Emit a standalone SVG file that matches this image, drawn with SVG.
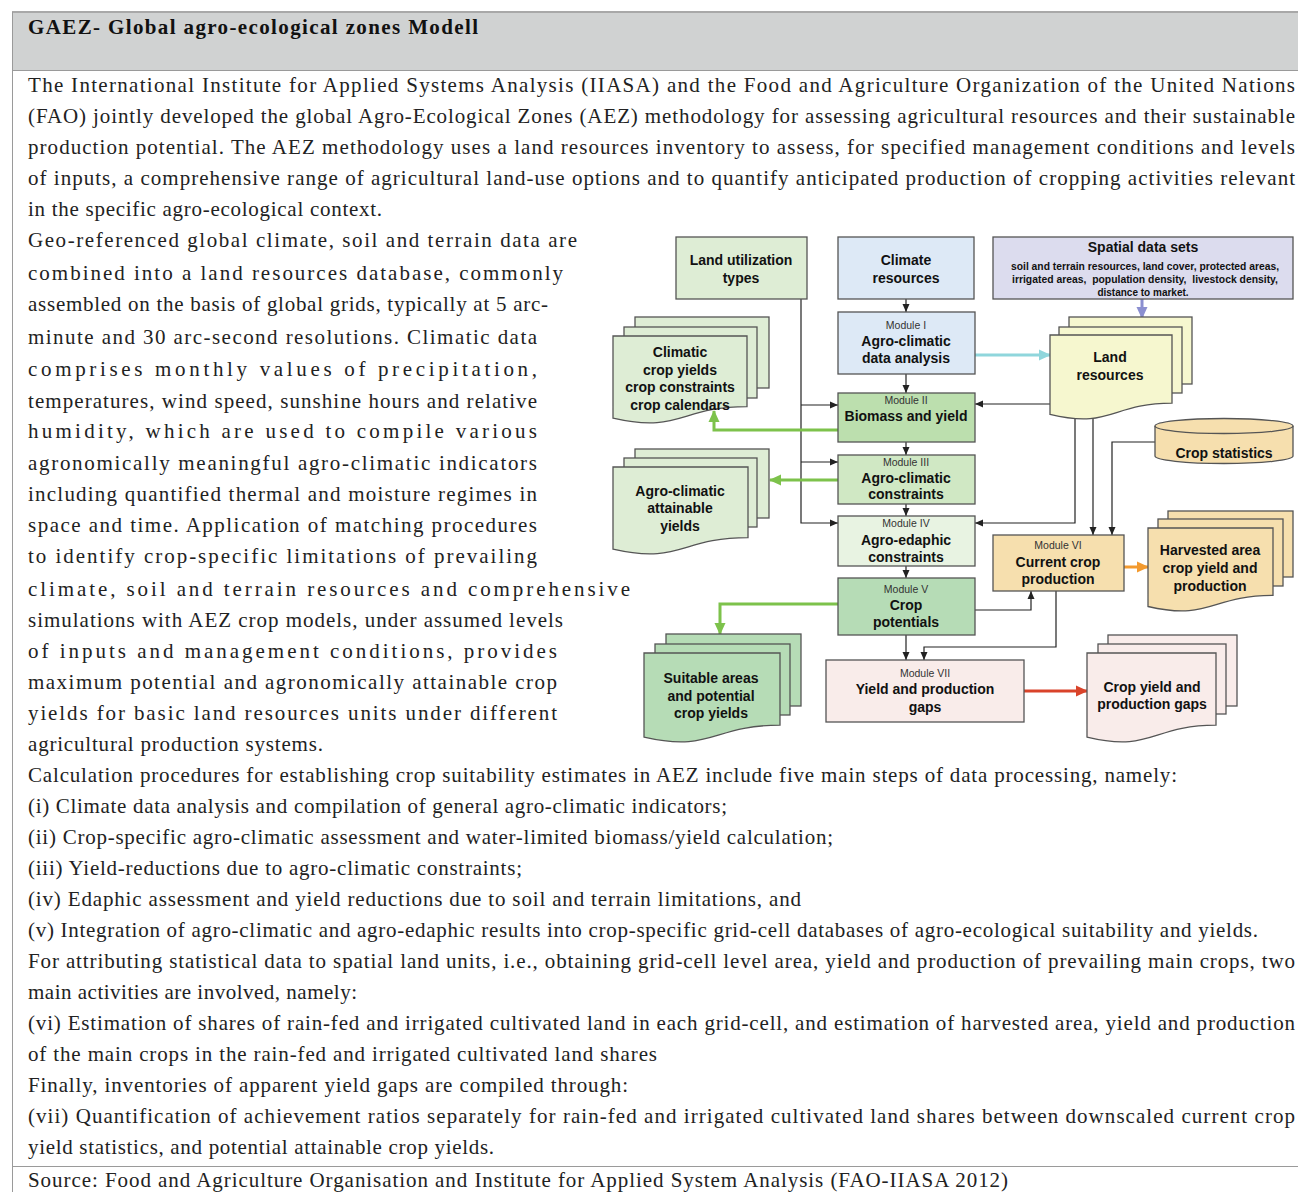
<svg xmlns="http://www.w3.org/2000/svg" width="1298" height="1192" viewBox="0 0 1298 1192">
<defs>
<style>
.body{font-family:"Liberation Serif","Times New Roman",serif;font-size:21px;fill:#222}
.hd{font-family:"Liberation Serif","Times New Roman",serif;font-size:21px;font-weight:bold;fill:#111}
.n{stroke:#555;stroke-width:1.3}
.t{font-family:"Liberation Sans",Arial,sans-serif;font-size:14px;font-weight:bold;fill:#111;text-anchor:middle}
.s{font-family:"Liberation Sans",Arial,sans-serif;font-size:10px;font-weight:bold;fill:#111;text-anchor:middle}
.m{font-family:"Liberation Sans",Arial,sans-serif;font-size:10.5px;fill:#333;text-anchor:middle}
.c{fill:none;stroke:#222;stroke-width:1.2}
.fg{fill:#deedd5}.fb{fill:#dde9f6}.fp{fill:#dcdcee}.fy{fill:#f6f7cf}.fo{fill:#f6dfae}.fk{fill:#f9ecea}
.f2{fill:#bcdfae}.f3{fill:#d0e8c4}.f4{fill:#e8f3e2}.f5{fill:#b6dcb6}
</style>
<marker id="ab" markerUnits="userSpaceOnUse" markerWidth="8" markerHeight="8" refX="8" refY="4" orient="auto"><path d="M0,0.5 L8,4 L0,7.5 z" fill="#222"/></marker>
<marker id="ag" markerUnits="userSpaceOnUse" markerWidth="12" markerHeight="12" refX="11" refY="6" orient="auto"><path d="M0,0.5 L12,6 L0,11.5 z" fill="#7dc24b"/></marker>
<marker id="ac" markerUnits="userSpaceOnUse" markerWidth="12" markerHeight="12" refX="11" refY="6" orient="auto"><path d="M0,0.5 L12,6 L0,11.5 z" fill="#8fd6dc"/></marker>
<marker id="ap" markerUnits="userSpaceOnUse" markerWidth="12" markerHeight="12" refX="11" refY="6" orient="auto"><path d="M0,0.5 L12,6 L0,11.5 z" fill="#8b8fd0"/></marker>
<marker id="ao" markerUnits="userSpaceOnUse" markerWidth="12" markerHeight="12" refX="11" refY="6" orient="auto"><path d="M0,0.5 L12,6 L0,11.5 z" fill="#f39a2e"/></marker>
<marker id="ar" markerUnits="userSpaceOnUse" markerWidth="12" markerHeight="12" refX="11" refY="6" orient="auto"><path d="M0,0.5 L12,6 L0,11.5 z" fill="#d9432a"/></marker>
</defs>

<g id="frame">
<rect x="12" y="12" width="1286" height="58" fill="#d0d2d2"/>
<line x1="12" y1="12" x2="1298" y2="12" stroke="#a8a8a8" stroke-width="2"/>
<line x1="12" y1="70.5" x2="1298" y2="70.5" stroke="#9a9a9a" stroke-width="1"/>
<line x1="12.5" y1="12" x2="12.5" y2="1192" stroke="#9a9a9a" stroke-width="1"/>
<line x1="12" y1="1166.5" x2="1298" y2="1166.5" stroke="#9a9a9a" stroke-width="1.2"/>
<text class="hd" x="28" y="34" textLength="450" lengthAdjust="spacing">GAEZ- Global agro-ecological zones Modell</text>
</g>

<g id="text">
<text class="body" x="28" y="92" textLength="1267" lengthAdjust="spacing">The International Institute for Applied Systems Analysis (IIASA) and the Food and Agriculture Organization of the United Nations</text>
<text class="body" x="28" y="123" textLength="1267" lengthAdjust="spacing">(FAO) jointly developed the global Agro-Ecological Zones (AEZ) methodology for assessing agricultural resources and their sustainable</text>
<text class="body" x="28" y="154" textLength="1267" lengthAdjust="spacing">production potential. The AEZ methodology uses a land resources inventory to assess, for specified management conditions and levels</text>
<text class="body" x="28" y="185" textLength="1267" lengthAdjust="spacing">of inputs, a comprehensive range of agricultural land-use options and to quantify anticipated production of cropping activities relevant</text>
<text class="body" x="28" y="216" textLength="354" lengthAdjust="spacing">in the specific agro-ecological context.</text>
<text class="body" x="28" y="247" textLength="549" lengthAdjust="spacing">Geo-referenced global climate, soil and terrain data are</text>
<text class="body" x="28" y="280" textLength="535" lengthAdjust="spacing">combined into a land resources database, commonly</text>
<text class="body" x="28" y="311" textLength="520" lengthAdjust="spacing">assembled on the basis of global grids, typically at 5 arc-</text>
<text class="body" x="28" y="344" textLength="509" lengthAdjust="spacing">minute and 30 arc-second resolutions. Climatic data</text>
<text class="body" x="28" y="376" textLength="509" lengthAdjust="spacing">comprises monthly values of precipitation,</text>
<text class="body" x="28" y="408" textLength="509" lengthAdjust="spacing">temperatures, wind speed, sunshine hours and relative</text>
<text class="body" x="28" y="438" textLength="509" lengthAdjust="spacing">humidity, which are used to compile various</text>
<text class="body" x="28" y="470" textLength="509" lengthAdjust="spacing">agronomically meaningful agro-climatic indicators</text>
<text class="body" x="28" y="501" textLength="509" lengthAdjust="spacing">including quantified thermal and moisture regimes in</text>
<text class="body" x="28" y="532" textLength="509" lengthAdjust="spacing">space and time. Application of matching procedures</text>
<text class="body" x="28" y="563" textLength="509" lengthAdjust="spacing">to identify crop-specific limitations of prevailing</text>
<text class="body" x="28" y="596" textLength="602" lengthAdjust="spacing">climate, soil and terrain resources and comprehensive</text>
<text class="body" x="28" y="627" textLength="535" lengthAdjust="spacing">simulations with AEZ crop models, under assumed levels</text>
<text class="body" x="28" y="658" textLength="529" lengthAdjust="spacing">of inputs and management conditions, provides</text>
<text class="body" x="28" y="689" textLength="529" lengthAdjust="spacing">maximum potential and agronomically attainable crop</text>
<text class="body" x="28" y="720" textLength="529" lengthAdjust="spacing">yields for basic land resources units under different</text>
<text class="body" x="28" y="751" textLength="295" lengthAdjust="spacing">agricultural production systems.</text>
<text class="body" x="28" y="782" textLength="1149" lengthAdjust="spacing">Calculation procedures for establishing crop suitability estimates in AEZ include five main steps of data processing, namely:</text>
<text class="body" x="28" y="813" textLength="699" lengthAdjust="spacing">(i) Climate data analysis and compilation of general agro-climatic indicators;</text>
<text class="body" x="28" y="844" textLength="805" lengthAdjust="spacing">(ii) Crop-specific agro-climatic assessment and water-limited biomass/yield calculation;</text>
<text class="body" x="28" y="875" textLength="494" lengthAdjust="spacing">(iii) Yield-reductions due to agro-climatic constraints;</text>
<text class="body" x="28" y="906" textLength="773" lengthAdjust="spacing">(iv) Edaphic assessment and yield reductions due to soil and terrain limitations, and</text>
<text class="body" x="28" y="937" textLength="1230" lengthAdjust="spacing">(v) Integration of agro-climatic and agro-edaphic results into crop-specific grid-cell databases of agro-ecological suitability and yields.</text>
<text class="body" x="28" y="968" textLength="1267" lengthAdjust="spacing">For attributing statistical data to spatial land units, i.e., obtaining grid-cell level area, yield and production of prevailing main crops, two</text>
<text class="body" x="28" y="999" textLength="329" lengthAdjust="spacing">main activities are involved, namely:</text>
<text class="body" x="28" y="1030" textLength="1267" lengthAdjust="spacing">(vi) Estimation of shares of rain-fed and irrigated cultivated land in each grid-cell, and estimation of harvested area, yield and production</text>
<text class="body" x="28" y="1061" textLength="629" lengthAdjust="spacing">of the main crops in the rain-fed and irrigated cultivated land shares</text>
<text class="body" x="28" y="1092" textLength="600" lengthAdjust="spacing">Finally, inventories of apparent yield gaps are compiled through:</text>
<text class="body" x="28" y="1123" textLength="1267" lengthAdjust="spacing">(vii) Quantification of achievement ratios separately for rain-fed and irrigated cultivated land shares between downscaled current crop</text>
<text class="body" x="28" y="1154" textLength="466" lengthAdjust="spacing">yield statistics, and potential attainable crop yields.</text>
<text class="body" x="28" y="1187" textLength="980" lengthAdjust="spacing">Source: Food and Agriculture Organisation and Institute for Applied System Analysis (FAO-IIASA 2012)</text>
</g>

<g id="connectors">
<path class="c" d="M906,299 V312" marker-end="url(#ab)"/>
<path class="c" d="M906,374 V393" marker-end="url(#ab)"/>
<path class="c" d="M906,442 V455" marker-end="url(#ab)"/>
<path class="c" d="M906,504 V516" marker-end="url(#ab)"/>
<path class="c" d="M906,566 V578" marker-end="url(#ab)"/>
<path class="c" d="M906,635 V660" marker-end="url(#ab)"/>
<path class="c" d="M801,299 V523 H838" marker-end="url(#ab)"/>
<path class="c" d="M801,405 H838" marker-end="url(#ab)"/>
<path class="c" d="M801,462 H838" marker-end="url(#ab)"/>
<path class="c" d="M1050,404 H975" marker-end="url(#ab)"/>
<path class="c" d="M1075,410 V523 H975" marker-end="url(#ab)"/>
<path class="c" d="M1093,410 V535" marker-end="url(#ab)"/>
<path class="c" d="M1160,442 H1112 V535" marker-end="url(#ab)"/>
<path class="c" d="M975,610 H1031 V591" marker-end="url(#ab)"/>
<path class="c" d="M1056,591 V647 H924 V660" marker-end="url(#ab)"/>
<path d="M975,355 H1050" fill="none" stroke="#8fd6dc" stroke-width="3" marker-end="url(#ac)"/>
<path d="M1142,299 V318" fill="none" stroke="#8b8fd0" stroke-width="3" marker-end="url(#ap)"/>
<path d="M838,430 H714 V411" fill="none" stroke="#7dc24b" stroke-width="3" marker-end="url(#ag)"/>
<path d="M838,480 H770" fill="none" stroke="#7dc24b" stroke-width="3" marker-end="url(#ag)"/>
<path d="M838,604 H720 V634" fill="none" stroke="#7dc24b" stroke-width="3" marker-end="url(#ag)"/>
<path d="M1124,567 H1148" fill="none" stroke="#f39a2e" stroke-width="3" marker-end="url(#ao)"/>
<path d="M1024,691 H1087" fill="none" stroke="#d9432a" stroke-width="3" marker-end="url(#ar)"/>
</g>

<g id="land-utilization">
<rect class="n fg" x="676" y="237" width="131" height="62"/>
<text class="t" x="741" y="265">Land utilization</text>
<text class="t" x="741" y="283">types</text>
</g>
<g id="climate-resources">
<rect class="n fb" x="838" y="237" width="136" height="62"/>
<text class="t" x="906" y="265">Climate</text>
<text class="t" x="906" y="283">resources</text>
</g>
<g id="spatial-data">
<rect class="n fp" x="993" y="237" width="300" height="62"/>
<text class="t" x="1143" y="252">Spatial data sets</text>
<text class="s" x="1145" y="270" textLength="268" lengthAdjust="spacingAndGlyphs">soil and terrain resources, land cover, protected areas,</text>
<text class="s" x="1145" y="283" xml:space="preserve" textLength="266" lengthAdjust="spacingAndGlyphs">irrigated areas,  population density,  livestock density,</text>
<text class="s" x="1143" y="296">distance to market.</text>
</g>
<g id="module-1">
<rect class="n fb" x="838" y="312" width="137" height="62"/>
<text class="m" x="906" y="329">Module I</text>
<text class="t" x="906" y="346">Agro-climatic</text>
<text class="t" x="906" y="363">data analysis</text>
</g>
<g id="module-2">
<rect class="n f2" x="838" y="393" width="137" height="49"/>
<text class="m" x="906" y="404">Module II</text>
<text class="t" x="906" y="421">Biomass and yield</text>
</g>
<g id="module-3">
<rect class="n f3" x="838" y="455" width="137" height="49"/>
<text class="m" x="906" y="466">Module III</text>
<text class="t" x="906" y="483">Agro-climatic</text>
<text class="t" x="906" y="499">constraints</text>
</g>
<g id="module-4">
<rect class="n f4" x="838" y="516" width="137" height="50"/>
<text class="m" x="906" y="527">Module IV</text>
<text class="t" x="906" y="545">Agro-edaphic</text>
<text class="t" x="906" y="562">constraints</text>
</g>
<g id="module-5">
<rect class="n f5" x="838" y="578" width="137" height="57"/>
<text class="m" x="906" y="593">Module V</text>
<text class="t" x="906" y="610">Crop</text>
<text class="t" x="906" y="627">potentials</text>
</g>
<g id="module-6">
<rect class="n fo" x="993" y="535" width="131" height="56"/>
<text class="m" x="1058" y="549">Module VI</text>
<text class="t" x="1058" y="567">Current crop</text>
<text class="t" x="1058" y="584">production</text>
</g>
<g id="module-7">
<rect class="n fk" x="826" y="660" width="198" height="62"/>
<text class="m" x="925" y="677">Module VII</text>
<text class="t" x="925" y="694">Yield and production</text>
<text class="t" x="925" y="712">gaps</text>
</g>
<g id="crop-statistics">
<path class="n fo" d="M1155,426 A69,7.5 0 0 1 1293,426 V456 A69,7.5 0 0 1 1155,456 Z"/>
<path class="n" fill="none" d="M1155,426 A69,7.5 0 0 0 1293,426"/>
<text class="t" x="1224" y="458">Crop statistics</text>
</g>
<g id="land-resources">
<rect class="n fy" x="1069" y="317" width="123" height="67"/>
<rect class="n fy" x="1059" y="327" width="123" height="66"/>
<path class="n fy" d="M1050,335 H1172 V403.2 C1111,403.2 1111,429.1 1050,414.4 Z"/>
<text class="t" x="1110" y="362">Land</text>
<text class="t" x="1110" y="380">resources</text>
</g>
<g id="climatic-doc">
<rect class="n fg" x="635" y="317" width="134" height="71"/>
<rect class="n fg" x="624" y="327" width="133" height="71"/>
<path class="n fg" d="M613,336 H747 V406.6 C680,406.6 680,433.5 613,418.2 Z"/>
<text class="t" x="680" y="357">Climatic</text>
<text class="t" x="680" y="375">crop yields</text>
<text class="t" x="680" y="392">crop constraints</text>
<text class="t" x="680" y="410">crop calendars</text>
</g>
<g id="attainable-doc">
<rect class="n fg" x="635" y="449" width="134" height="69"/>
<rect class="n fg" x="624" y="458" width="133" height="69"/>
<path class="n fg" d="M613,467 H748 V537.6 C680.5,537.6 680.5,564.5 613,549.2 Z"/>
<text class="t" x="680" y="496">Agro-climatic</text>
<text class="t" x="680" y="513">attainable</text>
<text class="t" x="680" y="531">yields</text>
</g>
<g id="suitable-doc">
<rect class="n f5" x="666" y="634" width="135" height="72"/>
<rect class="n f5" x="655" y="644" width="135" height="71"/>
<path class="n f5" d="M644,653 H780 V725.2 C712,725.2 712,752.7 644,737.1 Z"/>
<text class="t" x="711" y="683">Suitable areas</text>
<text class="t" x="711" y="701">and potential</text>
<text class="t" x="711" y="718">crop yields</text>
</g>
<g id="harvested-doc">
<rect class="n fo" x="1168" y="511" width="125" height="66"/>
<rect class="n fo" x="1158" y="519" width="125" height="67"/>
<path class="n fo" d="M1148,528 H1273 V595.4 C1210.5,595.4 1210.5,621 1148,606.5 Z"/>
<text class="t" x="1210" y="555">Harvested area</text>
<text class="t" x="1210" y="573">crop yield and</text>
<text class="t" x="1210" y="591">production</text>
</g>
<g id="gaps-doc">
<rect class="n fk" x="1108" y="635" width="129" height="71"/>
<rect class="n fk" x="1098" y="644" width="128" height="70"/>
<path class="n fk" d="M1087,653 H1216 V725.2 C1151.5,725.2 1151.5,752.7 1087,737.1 Z"/>
<text class="t" x="1152" y="692">Crop yield and</text>
<text class="t" x="1152" y="709">production gaps</text>
</g>
</svg>
